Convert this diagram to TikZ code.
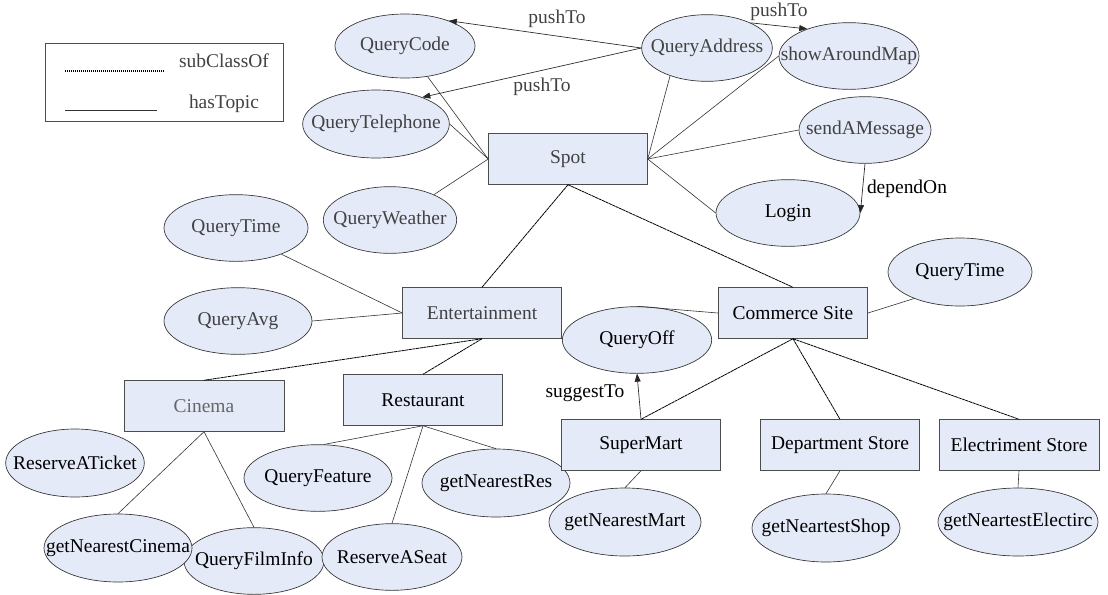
\documentclass[tikz,border=0pt]{standalone}
\usepackage{fontspec}
\setmainfont{LiberationSerif}[Extension=.ttf, UprightFont=*-Regular]
\usepackage{tikz}
\usetikzlibrary{arrows.meta,shapes.geometric}
\definecolor{topicfill}{RGB}{228,234,247}
\definecolor{inkgray}{RGB}{66,66,66}

\begin{document}
\begin{tikzpicture}[
      x=0.75pt, y=-0.75pt,
      every node/.style={font=\rmfamily\fontsize{14.6}{17}\selectfont},
      topicbase/.style={ellipse, draw=black!80, fill=topicfill, line width=0.5pt,
                        inner sep=0pt, minimum width=108pt, minimum height=50pt},
      topic/.style={topicbase, label={center:#1}},
      topicd/.style={topicbase, label={[text=inkgray]center:#1}},
      cls/.style={draw=black!70, fill=topicfill, line width=0.6pt,
                  minimum width=119pt, minimum height=38pt, inner sep=2pt},
      dim/.style={text=inkgray},
      has/.style={draw=black!80, line width=0.45pt},
      sub/.style={draw=black, line width=0.6pt, dash pattern=on 2.4pt off 0.4pt},
      arr/.style={-{Triangle[length=6pt, width=4.5pt]}, line width=0.5pt,
                  draw=black!85},
    ]
    \useasboundingbox (0,0) rectangle (1108,594);

    % ── Legend ──────────────────────────────────────────────
    \node[draw=black!70, line width=0.6pt, minimum width=179pt,
          minimum height=59pt, inner sep=0pt] (legend) at (164.5,82.5) {};
    \node[dim] (lsub) at (224,61) {subClassOf};
    \node[dim] (lhas) at (224,104) {hasTopic};
    \coordinate (lsa) at (65,71);  \coordinate (lsb) at (165,71);
    \coordinate (lha) at (65,110); \coordinate (lhb) at (157,110);
    \draw[sub, dash pattern=on 1pt off 0.5pt, line width=0.9pt] (lsa) -- (lsb);
    \draw[has] (lha) -- (lhb);

    % ── Spot and its topics ─────────────────────────────────
    \node[cls, dim] (spot) at (568,159) {Spot};
    \node[topicd=QueryCode, minimum width=105pt, minimum height=48pt] (qcode) at (405,46) {};
    \node[topicd=QueryTelephone, minimum width=110pt, minimum height=51pt] (qtel) at (376,124) {};
    \node[topicd=QueryWeather, minimum width=100pt] (qweather) at (390,220) {};
    \node[topicd=QueryAddress, minimum width=98pt] (qaddr) at (707,48) {};
    \node[topicd=showAroundMap, minimum width=105pt] (smap) at (849,56) {};
    \node[topicd=sendAMessage, minimum width=99pt] (smsg) at (865,130) {};
    \node[topic=Login] (login) at (788,213) {};

    % ── Entertainment ───────────────────────────────────────
    \node[cls, dim] (ent) at (482,313) {Entertainment};
    \node[topicd=QueryTime] (qtimel) at (236,228) {};
    \node[topicd=QueryAvg, minimum width=111pt] (qavg) at (238,321) {};

    % ── Commerce Site ───────────────────────────────────────
    \node[cls, minimum width=112pt] (csite) at (793,313) {Commerce Site};
    \node[topic=QueryTime, minimum height=51pt] (qtimer) at (960,272) {};
    \node[topic=QueryOff, minimum width=112pt] (qoff) at (637,340) {};

    % ── Cinema, Restaurant ──────────────────────────────────
    \node[cls, text=black!60, minimum width=120pt] (cinema) at (204,406) {Cinema};
    \node[cls] (rest) at (423,400) {Restaurant};
    \node[topic=ReserveATicket, minimum width=104pt, minimum height=51pt] (rticket) at (75,463) {};
    \node[topic=QueryFilmInfo, minimum width=105pt] (qfilm) at (254,561) {};
    \node[topic=getNearestCinema, minimum width=111pt, minimum height=51pt] (gcinema) at (118,548) {};
    \node[topic=QueryFeature, minimum width=111pt] (qfeat) at (318,478) {};
    \node[topic=ReserveASeat, minimum width=105pt] (rseat) at (392,557) {};
    \node[topic=getNearestRes, minimum width=111pt, minimum height=51pt] (gres) at (496,483) {};

    % ── Shops ───────────────────────────────────────────────
    \node[cls] (smart) at (641,445) {SuperMart};
    \node[cls] (dept) at (840,445) {Department Store};
    \node[cls, minimum width=120pt] (elec) at (1019,445) {Electriment Store};
    \node[topic=getNearestMart, minimum width=114pt, minimum height=51pt] (gmart) at (625,522) {};
    \node[topic=getNeartestShop, minimum width=111pt, minimum height=51pt] (gshop) at (826,528) {};
    \node[topic=getNeartestElectirc, minimum width=120pt, minimum height=51pt] (gelec) at (1018,522) {};

    % ── subClassOf ──────────────────────────────────────────
    \draw[sub] (spot.south) -- (ent.north);
    \draw[sub] (spot.south) -- (csite.north);
    \draw[sub] (ent.south) -- (cinema.north);
    \draw[sub] (ent.south) -- (rest.north);
    \draw[sub] (csite.south) -- (smart.north);
    \draw[sub] (csite.south) -- (dept.north);
    \draw[sub] (csite.south) -- (elec.north);

    % ── hasTopic ────────────────────────────────────────────
    \draw[has] (qcode) -- (spot.west);
    \draw[has] (qtel.east) -- (spot.west);
    \draw[has] (qweather.30) -- (spot.west);
    \draw[has] (qaddr.217) -- (spot.east);
    \draw[has] (smap.west) -- (spot.east);
    \draw[has] (smsg.west) -- (spot.east);
    \draw[has] (login.west) -- (spot.east);
    \draw[has] (qtimel.-30) -- (ent.west);
    \draw[has] (qavg.east) -- (ent.west);
    \draw[has] (qoff.north) -- (csite.west);
    \draw[has] (csite.east) -- (qtimer.210);
    \draw[has] (cinema.south) -- (gcinema.north);
    \draw[has] (cinema.south) -- (qfilm.north);
    \draw[has] (rest.south) -- (qfeat.80);
    \draw[has] (rest.south) -- (rseat.north);
    \draw[has] (rest.south) -- (gres.north);
    \draw[has] (smart.south) -- (gmart.north);
    \draw[has] (dept.south) -- (gshop.north);
    \draw[has] (elec.south) -- (gelec.north);

    % ── Relations ───────────────────────────────────────────
    \draw[arr] (qaddr.west) -- (qcode.30);
    \draw[arr] (qaddr.west) -- (qtel.30);
    \draw[arr] (qaddr.30) -- (smap.147);
    \node[dim] (push1) at (557,19) {pushTo};
    \node[dim] (push2) at (542,87) {pushTo};
    \node[dim] (push3) at (779,12) {pushTo};
    \draw[arr] (smsg.south) -- (login.east);
    \node (dep) at (907,189) {dependOn};
    \draw[arr] (smart.north) -- (qoff.south);
    \node (sugg) at (585,393) {suggestTo};
  \end{tikzpicture}
\end{document}
